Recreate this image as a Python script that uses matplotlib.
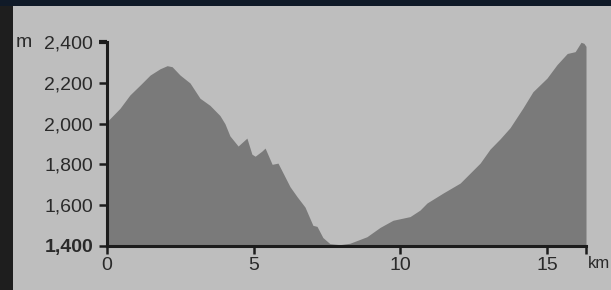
import matplotlib
matplotlib.use("Agg")
import matplotlib.pyplot as plt
from matplotlib.patches import Rectangle

# elevation profile
dist_km = [0.0, 0.44, 0.78, 1.13, 1.47, 1.81, 2.05, 2.22, 2.49, 2.83,
           3.17, 3.51, 3.85, 4.02, 4.19, 4.47, 4.77, 4.94, 5.05, 5.28,
           5.39, 5.63, 5.83, 6.24, 6.48, 6.75, 7.02, 7.16, 7.36, 7.60,
           7.94, 8.28, 8.86, 9.31, 9.75, 10.33, 10.67, 10.91, 11.46, 12.04,
           12.38, 12.72, 13.06, 13.40, 13.74, 14.18, 14.52, 15.00, 15.34, 15.69,
           15.96, 16.16, 16.26, 16.33]
elev_m = [2010, 2075, 2141, 2190, 2239, 2270, 2285, 2280, 2239, 2200,
          2125, 2090, 2040, 2000, 1940, 1890, 1929, 1850, 1840, 1865,
          1880, 1800, 1806, 1690, 1641, 1590, 1500, 1495, 1440, 1410,
          1405, 1412, 1444, 1490, 1525, 1543, 1575, 1610, 1659, 1708,
          1757, 1806, 1875, 1925, 1980, 2077, 2157, 2224, 2290, 2345,
          2354, 2400, 2395, 2380]

x_ticks = [0, 5, 10, 15]
y_ticks = [1400, 1600, 1800, 2000, 2200, 2400]
y_labels = ["1,400", "1,600", "1,800", "2,000", "2,200", "2,400"]

bg = "#bebebe"
fill_col = "#7a7a7a"
ink = "#1c1c1c"
txt = "#2a2a2a"

plt.rcParams['font.family'] = ['Liberation Sans', 'DejaVu Sans']

fig = plt.figure(figsize=(6.11, 2.90), dpi=100, facecolor=bg)

# dark page border at left and top
fig.patches.append(Rectangle((0, 0), 13 / 611, 1, transform=fig.transFigure,
                             facecolor="#1e1e1e", edgecolor="none", zorder=0))
fig.patches.append(Rectangle((0, 1 - 6 / 290), 1, 6 / 290, transform=fig.transFigure,
                             facecolor="#101a28", edgecolor="none", zorder=0))

ax = fig.add_axes([107 / 611, 1 - 245.7 / 290, (586 - 107) / 611, (245.7 - 42.3) / 290])
ax.set_facecolor("none")

ax.fill_between(dist_km, 1400, elev_m, color=fill_col, linewidth=0)

xmax = dist_km[-1]
ax.set_xlim(0, xmax)
ax.set_ylim(1400, 2400)

for s in ["top", "right"]:
    ax.spines[s].set_visible(False)
for s in ["left", "bottom"]:
    ax.spines[s].set_color(ink)
    ax.spines[s].set_linewidth(2.2)

ax.set_xticks(x_ticks + [xmax])
ax.set_xticklabels([str(t) for t in x_ticks] + [""])
ax.set_yticks(y_ticks)
ax.set_yticklabels(y_labels)
ax.tick_params(axis="both", direction="out", length=6, width=1.8, color=ink,
               labelsize=14, labelcolor=txt)
ax.tick_params(axis="y", pad=4)
ax.tick_params(axis="x", pad=2)
ax.get_yticklabels()[0].set_fontweight("bold")
ax.yaxis.get_major_ticks()[-1].tick1line.set_markeredgewidth(3)

fig.text(16 / 611, 1 - 42 / 290, "m", fontsize=14, color=txt, va="center", ha="left")
fig.text(588 / 611, 1 - 263 / 290, "km", fontsize=12, color=txt, va="center", ha="left")

fig.savefig("out.png", dpi=100, facecolor=bg)
